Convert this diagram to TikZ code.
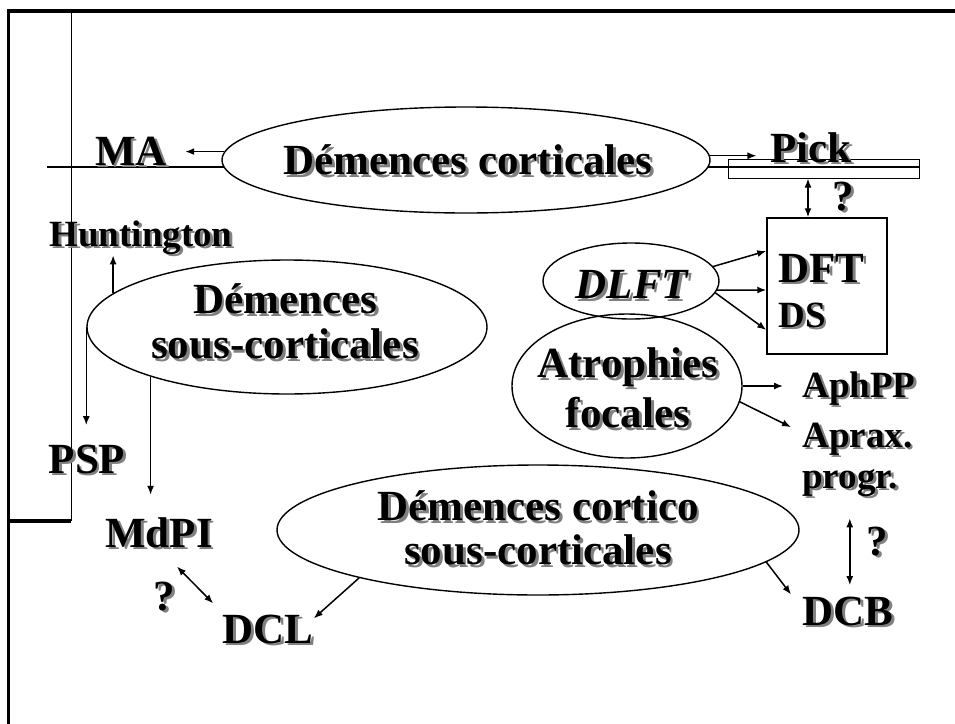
\documentclass[tikz,border=0pt]{standalone}
\usepackage{fontspec}
\setmainfont{Liberation Serif}
\usetikzlibrary{shapes.geometric,arrows.meta}
\newcommand\shd[1]{\leavevmode\rlap{\kern1.4pt\raisebox{-1.4pt}{\textcolor{black!50}{#1}}}#1}
\begin{document}
\begin{tikzpicture}[x=0.5pt,y=-0.5pt,
 ell/.style={draw,ellipse,line width=0.7pt,inner sep=0pt},
 big/.style={font=\bfseries\fontsize{21.5}{22.5}\selectfont,inner sep=0pt},
 small/.style={font=\bfseries\fontsize{18.5}{20}\selectfont,inner sep=0pt},
 arr/.style={line width=0.75pt,-{Latex[length=4.5pt,width=3.5pt]}},
 darr/.style={line width=0.75pt,{Latex[length=4.5pt,width=3.5pt]}-{Latex[length=4.5pt,width=3.5pt]}},
 frame/.style={line width=1.6pt},
 boxn/.style={draw,inner sep=0pt}]
\useasboundingbox (0,0) rectangle (955,724);
% frame
\draw[frame] (8.5,724) -- (8.5,11) -- (955,11);
\draw[line width=0.5pt] (71,11) -- (71,521);
\draw[frame] (8.5,521) -- (71,521);
% horizontal line and bar
\draw[line width=0.9pt] (47,167) -- (919,167);
\node[boxn,line width=0.5pt,minimum width=95.5pt,minimum height=9.5pt] (pickbar) at (823.5,168.5) {};
% ellipses
\node[ell,fill=white,minimum width=244pt,minimum height=53pt] (cort) at (466,160) {};
\node[ell,minimum width=200pt,minimum height=67pt] (sousc) at (287,327) {};
\node[ell,minimum width=261pt,minimum height=65pt] (cc) at (538,530) {};
\node[ell,minimum width=115pt,minimum height=72pt] (atro) at (627,386) {};
\node[ell,minimum width=88pt,minimum height=38pt] (dlft) at (631,281) {};
\node[boxn,line width=0.75pt,minimum width=60pt,minimum height=68pt] (dftbox) at (827,286) {};
% ellipse texts
\node[big] (cortT) at (468,161.5) {\shd{Démences corticales}};
\node[big,align=center] (souscT) at (285,323) {\shd{Démences}\\\shd{sous-corticales}};
\node[big,align=center,font=\bfseries\fontsize{21.5}{22}\selectfont] (ccT) at (538,529) {\shd{Démences cortico}\\\shd{sous-corticales}};
\node[big,align=center,font=\bfseries\fontsize{21.5}{25}\selectfont] (atroT) at (628,389) {\shd{Atrophies}\\\shd{focales}};
\node[big,font=\bfseries\itshape\fontsize{21.5}{22.5}\selectfont] (dlftT) at (632,286) {\shd{DLFT}};
% labels
\node[big,anchor=base] (MA) at (131,165) {\shd{MA}};
\node[big,anchor=base] (Pick) at (811,162) {\shd{Pick}};
\node[big,anchor=base] (q1) at (843,210) {\shd{?}};
\node[small,anchor=base] (Hunt) at (141,246) {\shd{Huntington}};
\node[big,anchor=base west] (DFT) at (778,282) {\shd{DFT}};
\node[small,anchor=base west] (DS) at (778,327) {\shd{DS}};
\node[small,anchor=base west] (AphPP) at (802,397) {\shd{AphPP}};
\node[small,anchor=base west] (Aprax) at (802,447) {\shd{Aprax.}};
\node[small,anchor=base west] (progr) at (802,488) {\shd{progr.}};
\node[big,anchor=base] (q2) at (877,555) {\shd{?}};
\node[big,anchor=base west] (DCB) at (802,625) {\shd{DCB}};
\node[big,anchor=base] (PSP) at (87,473) {\shd{PSP}};
\node[big,anchor=base] (MdPI) at (159,547) {\shd{MdPI}};
\node[big,anchor=base] (q3) at (164,610) {\shd{?}};
\node[big,anchor=base] (DCL) at (268,643) {\shd{DCL}};
% connectors
\draw[arr] (cort.178.6) -- ([xshift=9pt]MA.east |- cort.178.6);
\draw[arr] (cort.1.4) -- ([xshift=-6.75pt]Pick.west |- cort.1.4);
\draw[darr] ([xshift=-7.75pt]pickbar.south) -- ([xshift=-7.75pt]pickbar.south |- dftbox.north);
\draw[arr] (dlft.10.5) -- ([yshift=17.5pt]dftbox.west);
\draw[arr] (dlft.-6) -- ([yshift=-2pt]dftbox.west);
\draw[arr] (dlft.-8) -- ([yshift=-22pt]dftbox.west);
\draw[arr] (atro.east) -- ([xshift=-9.5pt]AphPP.west |- atro.east);
\draw[arr] (atro.-8.6) -- ([xshift=-5.5pt,yshift=6.5pt]Aprax.west);
\draw[darr] ([xshift=1pt,yshift=-9.5pt]DCB.north |- progr.south) -- ([xshift=1pt,yshift=5.5pt]DCB.north);
\draw[arr] (cc.-8) -- ([xshift=-5.5pt,yshift=9pt]DCB.west);
\draw[arr] (cc.195) -- ([yshift=6pt]DCL.east);
\draw[darr] ([xshift=9pt,yshift=-8pt]MdPI.south) -- ([xshift=-4.5pt,yshift=13.5pt]DCL.west);
\draw[arr] (sousc.169.5) -- ([yshift=1pt]sousc.169.5 |- Hunt.south);
\draw[arr] (sousc.west) -- ([yshift=9.5pt]sousc.west |- PSP.north);
\draw[arr] (sousc.200.1) -- ([yshift=11pt]sousc.200.1 |- MdPI.north);
\end{tikzpicture}
\end{document}
